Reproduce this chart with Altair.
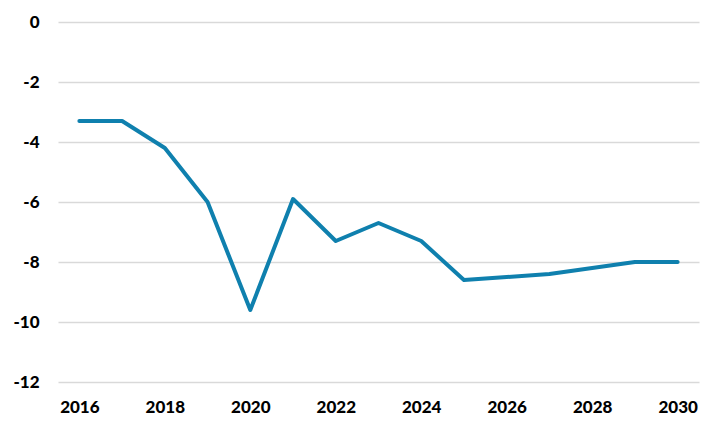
import altair as alt
import pandas as pd

years = list(range(2016, 2031))
values = [-3.3, -3.3, -4.2, -6.0, -9.6, -5.9, -7.3, -6.7, -7.3, -8.6, -8.5, -8.4, -8.2, -8.0, -8.0]
x_ticks = [2016, 2018, 2020, 2022, 2024, 2026, 2028, 2030]
y_ticks = [0, -2, -4, -6, -8, -10, -12]

df = pd.DataFrame({"year": years, "value": values})

chart = alt.Chart(df).mark_line(color="#0f80ae", strokeWidth=4, strokeCap="round", strokeJoin="round").encode(
    x=alt.X("year:Q", scale=alt.Scale(domain=[2015.5, 2030.5], nice=False, zero=False),
            axis=alt.Axis(values=x_ticks, format="d", title=None, grid=False, ticks=False, domain=False,
                          labelFont="Lato", labelFontWeight=900, labelFontSize=17, labelColor="#000000",
                          labelPadding=17)),
    y=alt.Y("value:Q", scale=alt.Scale(domain=[-12, 0], nice=False),
            axis=alt.Axis(values=y_ticks, title=None, grid=True, gridColor="#d9d9d9", gridWidth=1.5,
                          ticks=False, domain=False, labelExpr="datum.value + ''",
                          labelFont="Lato", labelFontWeight=900, labelFontSize=17, labelColor="#000000",
                          labelPadding=19)),
).properties(
    width=641, height=360,
    autosize=alt.AutoSizeParams(type="none"),
    padding={"left": 50, "top": 14, "right": 6, "bottom": 40},
).configure_view(stroke=None)

chart.save("out.html", embed_options={"renderer": "svg", "actions": False})
